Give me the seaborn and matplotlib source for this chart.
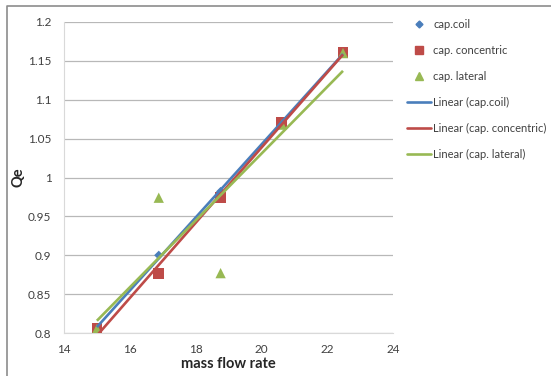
import numpy as np
import matplotlib
matplotlib.use('Agg')
import matplotlib.pyplot as plt
from matplotlib.lines import Line2D
import seaborn as sns

# mass flow rate values (shared x) and Qe for each capillary type
mass_flow = [15.0, 16.88, 18.76, 20.62, 22.48]
qe_coil = [0.806, 0.900, 0.982, 1.070, 1.160]
qe_concentric = [0.806, 0.877, 0.974, 1.071, 1.161]
qe_lateral = [0.805, 0.974, 0.877, 1.068, 1.160]

series_names = ['cap.coil', 'cap. concentric', 'cap. lateral']
colors = ['#4a7ebb', '#be4b48', '#98b954']
markers = ['D', 's', '^']
marker_sizes = [22, 60, 55]

x_ticks = [14, 16, 18, 20, 22, 24]
y_ticks = [0.8, 0.85, 0.9, 0.95, 1.0, 1.05, 1.1, 1.15, 1.2]
y_tick_labels = ['0.8', '0.85', '0.9', '0.95', '1', '1.05', '1.1', '1.15', '1.2']

sns.set_style('white')
plt.rcParams['font.family'] = ['Lato', 'DejaVu Sans']

fig = plt.figure(figsize=(5.51, 3.76), dpi=100)
ax = fig.add_axes([64 / 551, 1 - 333 / 376, 329 / 551, 311 / 376])

all_series = [qe_coil, qe_concentric, qe_lateral]
handles = []
for vals, name, c, m, s in zip(all_series, series_names, colors, markers, marker_sizes):
    sns.scatterplot(x=mass_flow, y=vals, color=c, marker=m, s=s, edgecolor='none',
                    ax=ax, zorder=3, legend=False)
    handles.append(Line2D([], [], linestyle='none', marker=m, color=c,
                          markersize=np.sqrt(s) * 0.75, label=name))

line_handles = []
for vals, name, c in zip(all_series, series_names, colors):
    sns.regplot(x=np.array(mass_flow), y=np.array(vals), scatter=False, ci=None,
                truncate=True, color=c, ax=ax,
                line_kws=dict(linewidth=1.9, zorder=4, solid_capstyle='butt'))
    line_handles.append(Line2D([], [], color=c, linewidth=1.9, label=f'Linear ({name})'))

ax.set_xlim(14, 24)
ax.set_ylim(0.8, 1.2)
ax.set_xticks(x_ticks)
ax.set_yticks(y_ticks)
ax.set_yticklabels(y_tick_labels)
ax.tick_params(axis='both', labelsize=8.5, colors='#404040')
ax.tick_params(axis='x', length=3, width=0.6, color='#bfbfbf', direction='out', pad=5)
ax.tick_params(axis='y', length=0, pad=9)

ax.grid(axis='y', color='#b8b8b8', linewidth=0.9)
ax.grid(axis='x', visible=False)
for side in ['top', 'right']:
    ax.spines[side].set_visible(False)
for side in ['left', 'bottom']:
    ax.spines[side].set_color('#d9d9d9')
    ax.spines[side].set_linewidth(0.8)

ax.set_xlabel('mass flow rate', fontsize=10.5, fontweight='bold', labelpad=1)
ax.set_ylabel('Qe', fontsize=10.5, fontweight='bold', labelpad=2)

fig.legend(handles=handles + line_handles, loc='upper left',
           bbox_to_anchor=(401 / 551, 1 - 13 / 376), frameon=False,
           fontsize=8, labelspacing=1.35, handlelength=2.2, handletextpad=0.2,
           borderpad=0, labelcolor='#404040')

# outer chart border (left and top)
fig.add_artist(Line2D([7 / 551, 7 / 551, 1.0], [0.0, 1 - 6 / 376, 1 - 6 / 376],
                      transform=fig.transFigure, color='#8c8c8c', linewidth=1.2))

fig.savefig('out.png', dpi=100)
